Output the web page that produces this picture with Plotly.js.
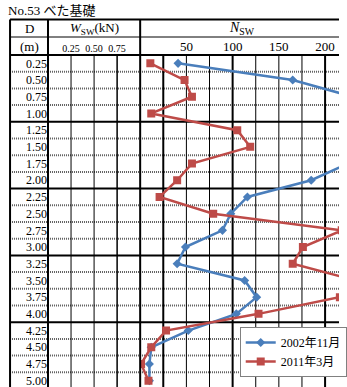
<!DOCTYPE html>
<html><head><meta charset="utf-8">
<script src="https://cdn.plot.ly/plotly-3.0.1.min.js"></script>
<style>html,body{margin:0;padding:0;background:#fff;}#chart{width:347px;height:387px;}</style>
</head><body><div id="chart"></div>
<script>
// ---- data ----
const depths = [0.25,0.50,0.75,1.00,1.25,1.50,1.75,2.00,2.25,2.50,2.75,3.00,3.25,3.50,3.75,4.00,4.25,4.50,4.75,5.00];
const nsw2002 = [41,165,230,260,280,250,225,185,116,98,89,49,40,113,126,104,52,12,10,10];
const nsw2011 = [11,48,56,12,105,119,56,40,21,79,218,176,165,233,216,128,28,12,1,9];
const seriesNames = ['2002年11月','2011年3月'];
const depthLabels = ['0.25','0.50','0.75','1.00','1.25','1.50','1.75','2.00','2.25','2.50','2.75','3.00','3.25','3.50','3.75','4.00','4.25','4.50','4.75','5.00'];
const nswTicks = [50,100,150,200];
const wswTicks = [0.25,0.50,0.75];
const wswTickText = ['0.25','0.50','0.75'];
const chartTitle = 'No.53 べた基礎';

// ---- layout geometry ----
const W=347,H=387,L=48,T=55;
const plotW=W-L, plotH=H-T;
const nswX0=142.7, pxPerN=0.95;
const nswMax=(W-nswX0)/pxPerN;
const splitFrac=(nswX0-L)/plotW;
const rowH=16.7;
const yTop=0.125;
const yBot=yTop+plotH/rowH*0.25;
function px(x){return (x-L)/plotW;}
function py(y){return (H-y)/plotH;}
const serif='"Liberation Serif", "Noto Sans CJK JP", serif';

const shapes=[];
// row boundaries
for(let k=1;k<20;k++){
  const b=yTop+0.25*k;
  const solid=(k%4===0);
  shapes.push({type:'line',xref:'paper',yref:'y',x0:px(9),x1:1,y0:b,y1:b,layer:'below',
    line: solid?{color:'#000',width:2}:{color:'#5e5e5e',width:2,dash:'1px,1px'}});
}
// header horizontals
[[19.5,2],[37,1],[55,2]].forEach(([y,w])=>{
  shapes.push({type:'line',xref:'paper',yref:'paper',x0:px(9),x1:1,y0:py(y),y1:py(y),line:{color:'#000',width:w}});
});
// main verticals
[9,48,nswX0].forEach(x=>{
  shapes.push({type:'line',xref:'paper',yref:'paper',x0:px(x),x1:px(x),y0:py(19.5),y1:0,line:{color:'#000',width:2}});
});
// Wsw grid
wswTicks.forEach((v,i)=>{
  shapes.push({type:'line',xref:'x2',yref:'paper',x0:v,x1:v,y0:0,y1:1,layer:'below',line:{color:'#000',width:i===2?1.5:1}});
});
// Nsw grid
for(let v=25;v<=200;v+=25){
  const thick=(v===25||v===100||v===200);
  shapes.push({type:'line',xref:'x',yref:'paper',x0:v,x1:v,y0:0,y1:1,layer:'below',line:{color:'#000',width:thick?2:1}});
}

const annotations=[
  {text:'D',x:px(28.5),y:py(28),xref:'paper',yref:'paper',showarrow:false,xanchor:'center',yanchor:'middle',font:{family:serif,size:13,color:'#000'}},
  {text:'(m)',x:px(28.5),y:py(46),xref:'paper',yref:'paper',showarrow:false,xanchor:'center',yanchor:'middle',font:{family:serif,size:13,color:'#000'}},
  {text:'<i>W</i><sub>SW</sub>(kN)',x:px(95.5),y:py(28),xref:'paper',yref:'paper',showarrow:false,xanchor:'center',yanchor:'middle',font:{family:serif,size:13,color:'#000'}},
  {text:'<i>N</i><sub>SW</sub>',x:px(247),y:py(28),xref:'paper',yref:'paper',showarrow:false,xanchor:'center',yanchor:'middle',font:{family:serif,size:14,color:'#000'}}
];

const traces=[
  {x:nsw2002,y:depths,name:seriesNames[0],type:'scatter',mode:'lines+markers',xaxis:'x',yaxis:'y',
   line:{color:'#4A7EBB',width:2.5},marker:{symbol:'diamond',size:7,color:'#4A7EBB'}},
  {x:nsw2011,y:depths,name:seriesNames[1],type:'scatter',mode:'lines+markers',xaxis:'x',yaxis:'y',
   line:{color:'#BE4B48',width:2.5},marker:{symbol:'square',size:8,color:'#BE4B48'}},
  {x:[],y:[],xaxis:'x2',yaxis:'y',showlegend:false,hoverinfo:'skip',type:'scatter'}
];

const layout={
  width:W,height:H,autosize:false,
  margin:{l:L,r:0,t:T,b:0,pad:0},
  paper_bgcolor:'#fff',plot_bgcolor:'rgba(0,0,0,0)',
  font:{family:serif,color:'#000'},
  title:{text:chartTitle,x:8/W,xanchor:'left',xref:'container',y:1-10/H,yref:'container',yanchor:'middle',font:{family:serif,size:13,color:'#000'}},
  xaxis:{domain:[splitFrac,1],range:[0,nswMax],side:'top',anchor:'y',tickmode:'array',tickvals:nswTicks,ticks:'',showgrid:false,zeroline:false,showline:false,ticklabeloverflow:'allow',tickfont:{family:serif,size:13,color:'#000'}},
  xaxis2:{domain:[0,splitFrac],range:[0,1],side:'top',anchor:'y',tickmode:'array',tickvals:wswTicks,ticktext:wswTickText,ticks:'',showgrid:false,zeroline:false,showline:false,ticklabeloverflow:'allow',tickfont:{family:serif,size:10,color:'#000'}},
  yaxis:{range:[yBot,yTop],anchor:'x2',tickmode:'array',tickvals:depths,ticktext:depthLabels,ticks:'',showgrid:false,zeroline:false,showline:false,ticklabeloverflow:'allow',tickfont:{family:serif,size:12,color:'#000'}},
  shapes:shapes,annotations:annotations,
  legend:{x:px(245),y:py(327),xanchor:'left',yanchor:'top',bgcolor:'#fff',bordercolor:'#808080',borderwidth:1,font:{family:serif,size:12,color:'#000'},tracegroupgap:0},
  showlegend:true
};
Plotly.newPlot('chart',traces,layout,{displayModeBar:false,staticPlot:true});
</script></body></html>
